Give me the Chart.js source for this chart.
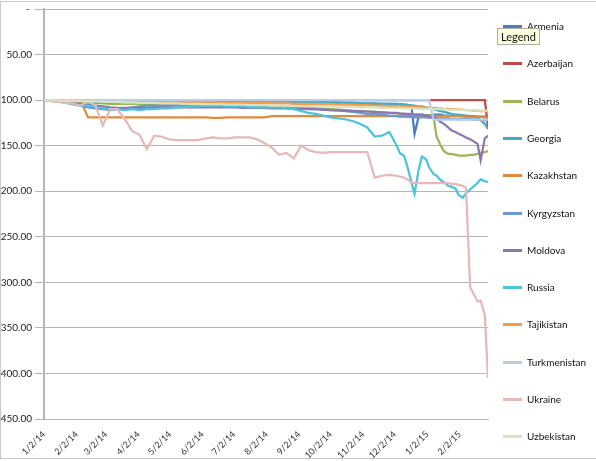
<!DOCTYPE html>
<html>
<head>
<meta charset="utf-8">
<script src="https://cdn.jsdelivr.net/npm/chart.js@4"></script>
<style>
  body { margin: 0; background: #fff; font-family: Lato, "Liberation Sans", sans-serif; }
  #wrap { position: relative; width: 596px; height: 461px; overflow: hidden; }
  #sheet { position: absolute; left: 0; top: 1px; width: 596px; height: 458px; box-sizing: border-box;
           border-top: 1px solid #c8c8c8; border-bottom: 1px solid #c8c8c8; border-left: 1px solid #c8c8c8; }
  canvas { position: absolute; left: 0; top: 0; }
  .item { position: absolute; left: 503px; height: 14px; font-size: 10px; line-height: 14px; color: #111; }
  .item i { position: absolute; left: 0; top: 6px; width: 19px; height: 3px; }
  .item span { position: absolute; left: 24px; top: 0; white-space: nowrap; }
  #tip { position: absolute; left: 497px; top: 28px; padding: 0 3px; height: 15px; line-height: 15px;
         font-size: 11px; background: #ffffe1; border: 1px solid #b0b0a0; color: #111; }
</style>
</head>
<body>
<div id="wrap">
  <div id="sheet"></div>
  <canvas id="chart" width="596" height="461"></canvas>
  <div id="legend"></div>
  <div id="tip">Legend</div>
</div>
<script>
// days since 1/2/14 (weekly, then twice a week from December)
const days = [
  0, 7, 14, 21, 28, 35, 42,
  49, 56, 63, 70, 77, 84, 91,
  98, 105, 112, 119, 126, 133, 140,
  147, 154, 161, 168, 175, 182, 189,
  196, 203, 210, 217, 224, 231, 238,
  245, 252, 259, 266, 273, 280, 287,
  294, 301, 308, 315, 322, 329, 336,
  339, 343, 346, 350, 353,
  357, 360, 364, 367, 371,
  374, 378, 381, 385, 388,
  392, 395, 399, 402, 406,
  409, 413, 416, 420, 423
];

const tickDays = [0, 31, 59, 90, 120, 151, 181, 212, 243, 273, 304, 334, 365, 396];
const tickLabels = ['1/2/14', '2/2/14', '3/2/14', '4/2/14', '5/2/14', '6/2/14', '7/2/14',
  '8/2/14', '9/2/14', '10/2/14', '11/2/14', '12/2/14', '1/2/15', '2/2/15'];

const countries = ['Armenia', 'Azerbaijan', 'Belarus', 'Georgia', 'Kazakhstan', 'Kyrgyzstan',
  'Moldova', 'Russia', 'Tajikistan', 'Turkmenistan', 'Ukraine', 'Uzbekistan'];

const armenia = [
  100, 100, 100.5, 101, 101, 101, 101.5,
  101.5, 102, 102, 101.5, 101.5, 101.5, 101.5,
  101.5, 101.5, 101.5, 101.5, 101.5, 101.5, 101.5,
  101, 101, 101, 101, 101, 101, 101,
  101.5, 101.5, 101.5, 101.5, 101.5, 101.5, 102,
  102, 102, 102, 102, 102.5, 102.5, 103,
  103, 103.5, 104, 104, 104, 104, 104,
  104.5, 105, 106, 106, 137,
  118, 117, 118, 117, 116,
  116, 116, 117, 117, 117,
  117, 117, 117, 117, 117.5,
  117.5, 118, 118, 118, 119
];
const azerbaijan = [
  100, 100, 100, 100, 100, 100, 100,
  100, 100, 100, 100, 100, 100, 100,
  100, 100, 100, 100, 100, 100, 100,
  100, 100, 100, 100, 100, 100, 100,
  100, 100, 100, 100, 100, 100, 100,
  100, 100, 100, 100, 100, 100, 100,
  100, 100, 100, 100, 100, 100, 100,
  100, 100, 100, 100, 100,
  100, 100, 100, 100, 100,
  100, 100, 100, 100, 100,
  100, 100, 100, 100, 100,
  100, 100, 100, 100, 130
];
const belarus = [
  100, 100, 100.5, 101, 101.5, 102, 102.5,
  103, 103.5, 104, 104, 104, 104, 104,
  104.5, 104.5, 105, 105, 105, 105, 105,
  105.5, 105.5, 105.5, 106, 106, 106, 106.5,
  106.5, 107, 107, 107.5, 107.5, 108, 108,
  108.5, 108.5, 109, 109.5, 110, 110.5, 111,
  111.5, 112, 112.5, 113, 113.5, 114, 114.5,
  115, 115, 115.5, 115.5, 116,
  116, 116, 116.5, 116.5, 117,
  140, 150, 156, 159, 159,
  160, 161, 161, 161, 160,
  160, 159, 158, 157, 156
];
const georgia = [
  100, 100, 100.5, 101, 101.5, 102, 102,
  102.5, 102.5, 102.5, 102, 102, 102, 102,
  102, 102, 102, 102, 102, 102, 102,
  102, 101.5, 101.5, 101.5, 101.5, 101, 101,
  101, 101, 101, 101, 101, 101.5, 101.5,
  102, 102, 102, 102.5, 102.5, 103, 103,
  103, 103.5, 103.5, 103.5, 104, 104, 104.5,
  104.5, 105, 105, 106, 106,
  107, 107, 108, 109, 110,
  111, 112, 113, 114, 115,
  116, 116, 117, 118, 118,
  119, 120, 122, 126, 132
];
const kazakhstan = [
  100, 100, 100, 100.5, 100.5, 101, 119,
  119, 119, 119, 119, 119, 119, 119,
  119, 119, 119, 119, 119, 119, 119,
  119, 119, 119.5, 119.5, 119, 119, 119,
  119, 119, 119, 117.5, 117.5, 117.5, 117.5,
  117.5, 117.5, 117.5, 117.5, 117.5, 117.5, 117.5,
  117.5, 117.5, 117.5, 117.5, 117.5, 117.5, 117.5,
  117.5, 117.5, 117.5, 117.5, 117.5,
  117.5, 117.5, 117.5, 117.5, 117.5,
  117.5, 117.5, 117.5, 117.5, 117.5,
  117.5, 117.5, 118, 118, 118,
  118, 118, 118.5, 119, 119
];
const kyrgyzstan = [
  100, 100.5, 101, 102, 104, 106, 108,
  109, 110, 111, 110, 109, 108, 107,
  106, 106, 106, 106, 105.5, 105.5, 105.5,
  105, 105, 105.5, 106, 106, 106.5, 107,
  107, 107.5, 108, 108, 108.5, 108.5, 109,
  109, 109.5, 110, 110.5, 111, 111.5, 112,
  113, 114, 115, 115.5, 116, 117, 117.5,
  118, 118, 118.5, 118.5, 119,
  119, 119, 119, 119.5, 119.5,
  120, 120, 120, 120, 120.5,
  120.5, 121, 121, 121, 121,
  121.5, 121.5, 122, 122, 122
];
const moldova = [
  100, 100.5, 101, 102, 103, 104, 105,
  106, 107, 108, 108.5, 108.5, 108.5, 108.5,
  108.5, 108, 108, 108, 108, 108, 108,
  108, 108, 108, 108, 108, 108, 108.5,
  108.5, 108.5, 108.5, 109, 109, 109, 109.5,
  109.5, 110, 110, 110.5, 111, 111, 111.5,
  112, 112, 112.5, 113, 113.5, 114, 114,
  114.5, 115, 115, 115.5, 116,
  116, 116, 117, 117, 118,
  120, 124, 126, 130, 133,
  135, 137, 139, 141, 143,
  145, 148, 166, 142, 139
];
const russia = [
  100, 101, 102, 103, 105, 106, 106,
  107, 109, 110, 110, 111, 110, 111,
  110, 110, 109, 109, 108, 108, 107,
  107, 106, 106, 106, 107, 107, 107,
  108, 108, 108, 108, 108, 109, 110,
  112, 114, 115, 117, 119, 120, 121,
  123, 126, 130, 140, 139, 135, 150,
  158, 161, 172, 190, 203,
  176, 162, 165, 174, 181,
  183, 188, 190, 194, 195,
  197, 204, 207, 202, 198,
  195, 191, 187, 189, 190
];
const tajikistan = [
  100, 100, 100.5, 100.5, 101, 101, 101,
  101, 101.5, 101.5, 101.5, 101.5, 102, 102,
  102, 102, 102, 102, 102.5, 102.5, 102.5,
  102.5, 102.5, 102.5, 103, 103, 103, 103,
  103, 103, 103, 103.5, 103.5, 103.5, 104,
  104, 104, 104.5, 104.5, 104.5, 105, 105,
  105, 105.5, 105.5, 106, 106, 106.5, 106.5,
  107, 107, 107, 107.5, 107.5,
  108, 108, 108, 108.5, 108.5,
  109, 109, 109.5, 109.5, 110,
  110, 110.5, 110.5, 111, 111,
  111.5, 111.5, 112, 112, 112.5
];
const turkmenistan = [
  100, 100, 100, 100, 100, 100, 100,
  100, 100, 100, 100, 100, 100, 100,
  100, 100, 100, 100, 100, 100, 100,
  100, 100, 100, 100, 100, 100, 100,
  100, 100, 100, 100, 100, 100, 100,
  100, 100, 100, 100, 100, 100, 100,
  100, 100, 100, 100, 100, 100, 100,
  100, 100, 100, 100, 100,
  100, 100, 100, 100, 121.5,
  121.5, 121.5, 121.5, 121.5, 121.5,
  121.5, 121.5, 121.5, 121.5, 121.5,
  121.5, 121.5, 121.5, 121.5, 121.5
];
const ukraine = [
  100, 101, 102, 103, 104, 106, 101,
  106, 128, 110, 110, 121, 134, 138,
  154, 139, 140, 143, 144, 144, 144,
  144, 142, 141, 142, 142, 141, 141,
  141, 143, 147, 152, 160, 158, 164,
  150, 155, 157, 158, 157, 157, 157,
  157, 157, 157, 185, 183, 182, 183,
  184, 185, 187, 190, 191,
  191, 191, 191, 191, 191,
  191, 191, 191, 191, 192,
  192, 193, 194, 196, 305,
  312, 321, 320, 336, 405
];
const uzbekistan = [
  100, 100, 100.5, 100.5, 101, 101, 101.5,
  101.5, 102, 102, 102, 102.5, 102.5, 103,
  103, 103, 103.5, 103.5, 103.5, 104, 104,
  104, 104.5, 104.5, 104.5, 105, 105, 105,
  105.5, 105.5, 105.5, 106, 106, 106, 106.5,
  106.5, 106.5, 107, 107, 107, 107.5, 107.5,
  107.5, 108, 108, 108, 108.5, 108.5, 108.5,
  108.5, 109, 109, 109, 109,
  109.5, 109.5, 109.5, 109.5, 110,
  110, 110, 110, 110.5, 110.5,
  110.5, 110.5, 111, 111, 111,
  111, 111.5, 111.5, 111.5, 111.5
];

const series = [armenia, azerbaijan, belarus, georgia, kazakhstan, kyrgyzstan,
  moldova, russia, tajikistan, turkmenistan, ukraine, uzbekistan];
const colors = ['#4a7ebb', '#be4b48', '#98b954', '#46aac5', '#e08a3c', '#6a99d0',
  '#8d76b3', '#4bc4dc', '#f79b4d', '#b9cde5', '#e6b9b8', '#d7e4bd'];

const datasets = countries.map((name, k) => ({
  label: name,
  data: days.map((d, i) => ({ x: d, y: series[k][i] })),
  borderColor: colors[k],
  backgroundColor: colors[k],
  borderWidth: 2.25,
  pointRadius: 0,
  tension: 0,
  fill: false,
  order: countries.length - k   // later series drawn on top, like Excel
}));

const config = {
  type: 'line',
  data: { datasets: datasets },
  options: {
    responsive: false,
    animation: false,
    layout: { padding: { top: 7, right: 108, left: 0, bottom: 0 } },
    plugins: {
      legend: { display: false },
      tooltip: { enabled: false }
    },
    scales: {
      x: {
        type: 'linear',
        min: 0,
        max: 423,
        afterBuildTicks: (s) => { s.ticks = tickDays.map(v => ({ value: v })); },
        afterFit: (s) => { s.height = 42; },
        grid: { display: false, drawTicks: false },
        border: { display: true, color: '#b5b5b5', width: 1 },
        ticks: {
          autoSkip: false,
          minRotation: 45,
          maxRotation: 45,
          padding: 10,
          color: '#333344',
          font: { family: 'Lato', size: 9 },
          callback: (v, i) => tickLabels[i]
        }
      },
      y: {
        reverse: true,
        min: 0,
        max: 450,
        afterFit: (s) => { s.width = 44; },
        grid: { color: '#b5b5b5', lineWidth: 1, tickLength: 9 },
        border: { color: '#b5b5b5', width: 2 },
        ticks: {
          stepSize: 50,
          padding: 3,
          color: '#222',
          font: { family: 'Lato', size: 10 },
          callback: (v) => v === 0 ? '-\u2005' : v.toFixed(2)
        }
      }
    }
  }
};

document.addEventListener('DOMContentLoaded', () => {
  const legend = document.getElementById('legend');
  countries.forEach((name, k) => {
    const item = document.createElement('div');
    item.className = 'item';
    item.style.top = (19 + k * 37.3) + 'px';
    item.innerHTML = '<i style="background:' + colors[k] + '"></i><span>' + name + '</span>';
    legend.appendChild(item);
  });
  const chart = new Chart(document.getElementById('chart'), config);
});
</script>
</body>
</html>
